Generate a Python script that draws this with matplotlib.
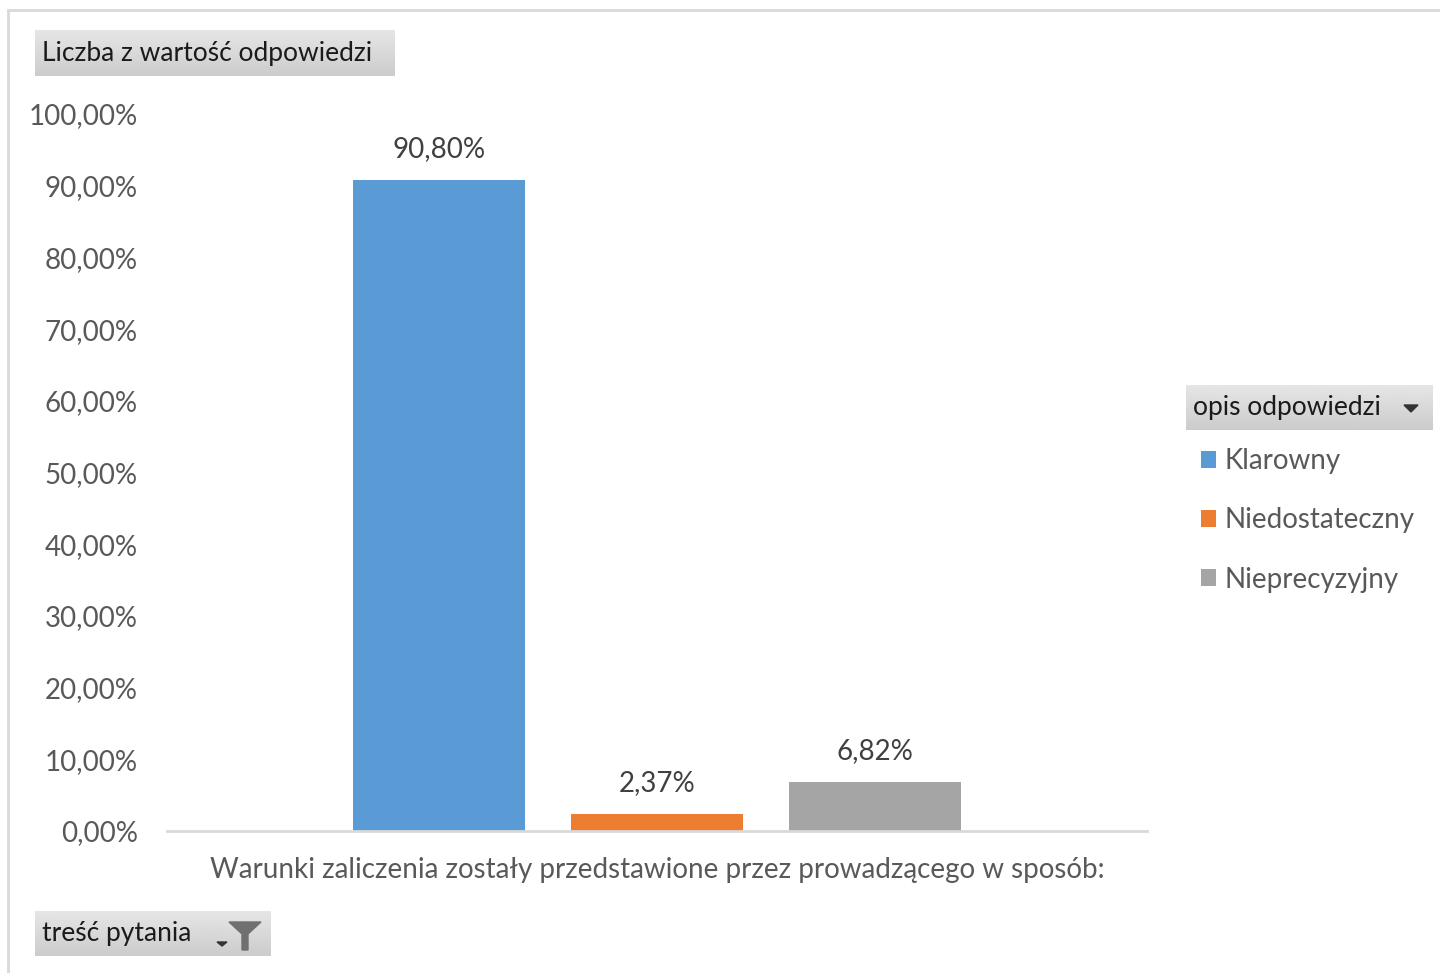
import numpy as np
import matplotlib.pyplot as plt
from matplotlib.patches import Rectangle, Polygon
from matplotlib.ticker import FuncFormatter, MultipleLocator

plt.rcParams['font.family'] = ['Lato', 'DejaVu Sans']

# data
categories = ['Klarowny', 'Niedostateczny', 'Nieprecyzyjny']
values = [0.9080, 0.0237, 0.0682]
colors = ['#5B9BD5', '#ED7D31', '#A5A5A5']
value_title = 'Liczba z wartość odpowiedzi'
legend_title = 'opis odpowiedzi'
filter_title = 'treść pytania'
xlabel = 'Warunki zaliczenia zostały przedstawione przez prowadzącego w sposób:'

W, H = 1440, 973
fig = plt.figure(figsize=(W / 100, H / 100), dpi=100)


def px(x, y):
    # image pixel coords (top-left origin) -> figure fraction
    return x / W, 1 - y / H


def pivot_button(x0, y0, x1, y1):
    ax_b = fig.add_axes([x0 / W, 1 - y1 / H, (x1 - x0) / W, (y1 - y0) / H])
    grad = np.linspace(0.90, 0.80, 50).reshape(-1, 1)
    ax_b.imshow(grad, cmap='gray', vmin=0, vmax=1, aspect='auto', extent=[0, 1, 0, 1])
    ax_b.set_axis_off()
    return ax_b


# outer chart border
fig.patches.append(Rectangle(px(8, 1000), 2000 / W, (1000 - 10) / H,
                             transform=fig.transFigure, fill=False,
                             edgecolor='#d9d9d9', linewidth=2))

# plot area
ax = fig.add_axes([167 / W, 1 - 831 / H, (1147 - 167) / W, (831 - 114) / H])
x = np.arange(len(categories))
bars = ax.bar(x, values, width=0.79, color=colors)
ax.set_xlim(-1.248, 3.248)
ax.set_ylim(0, 1.0)
ax.yaxis.set_major_locator(MultipleLocator(0.1))
ax.yaxis.set_major_formatter(FuncFormatter(lambda v, p: f'{v * 100:.2f}%'.replace('.', ',')))
ax.tick_params(axis='y', length=0, pad=21, labelsize=20, labelcolor='#595959')
ax.set_xticks([])
for s in ['top', 'right', 'left']:
    ax.spines[s].set_visible(False)
ax.spines['bottom'].set_color('#d9d9d9')
ax.spines['bottom'].set_linewidth(2)

ax.bar_label(bars, labels=[f'{v * 100:.2f}%'.replace('.', ',') for v in values],
             padding=13, fontsize=20, color='#404040')

fig.text(*px(657, 870), xlabel, ha='center', va='center', fontsize=20, color='#595959')

# pivot field buttons
pivot_button(35, 30, 394, 76)
fig.text(*px(42, 54), value_title, ha='left', va='center', fontsize=19, color='#1a1a1a')

pivot_button(1186, 385, 1433, 430)
fig.text(*px(1193, 408), legend_title, ha='left', va='center', fontsize=19, color='#1a1a1a')
fig.patches.append(Polygon([px(1404, 405), px(1418, 405), px(1411, 412)], closed=True,
                           transform=fig.transFigure, color='#333333'))

pivot_button(35, 911, 271, 956)
fig.text(*px(42, 934), filter_title, ha='left', va='center', fontsize=19, color='#1a1a1a')
fig.patches.append(Polygon([px(229, 922), px(261, 922), px(248, 934), px(248, 950),
                            px(242, 950), px(242, 934)], closed=True,
                           transform=fig.transFigure, color='#707070'))
fig.patches.append(Polygon([px(217, 942), px(227, 942), px(222, 946)], closed=True,
                           transform=fig.transFigure, color='#333333'))

# legend
fig.legend(bars, categories, loc='upper left', bbox_to_anchor=px(1201, 448),
           frameon=False, fontsize=20, labelcolor='#595959',
           handlelength=0.55, handleheight=0.55, handletextpad=0.3,
           labelspacing=1.2, borderaxespad=0, borderpad=0)

fig.savefig('out.png', dpi=100)
